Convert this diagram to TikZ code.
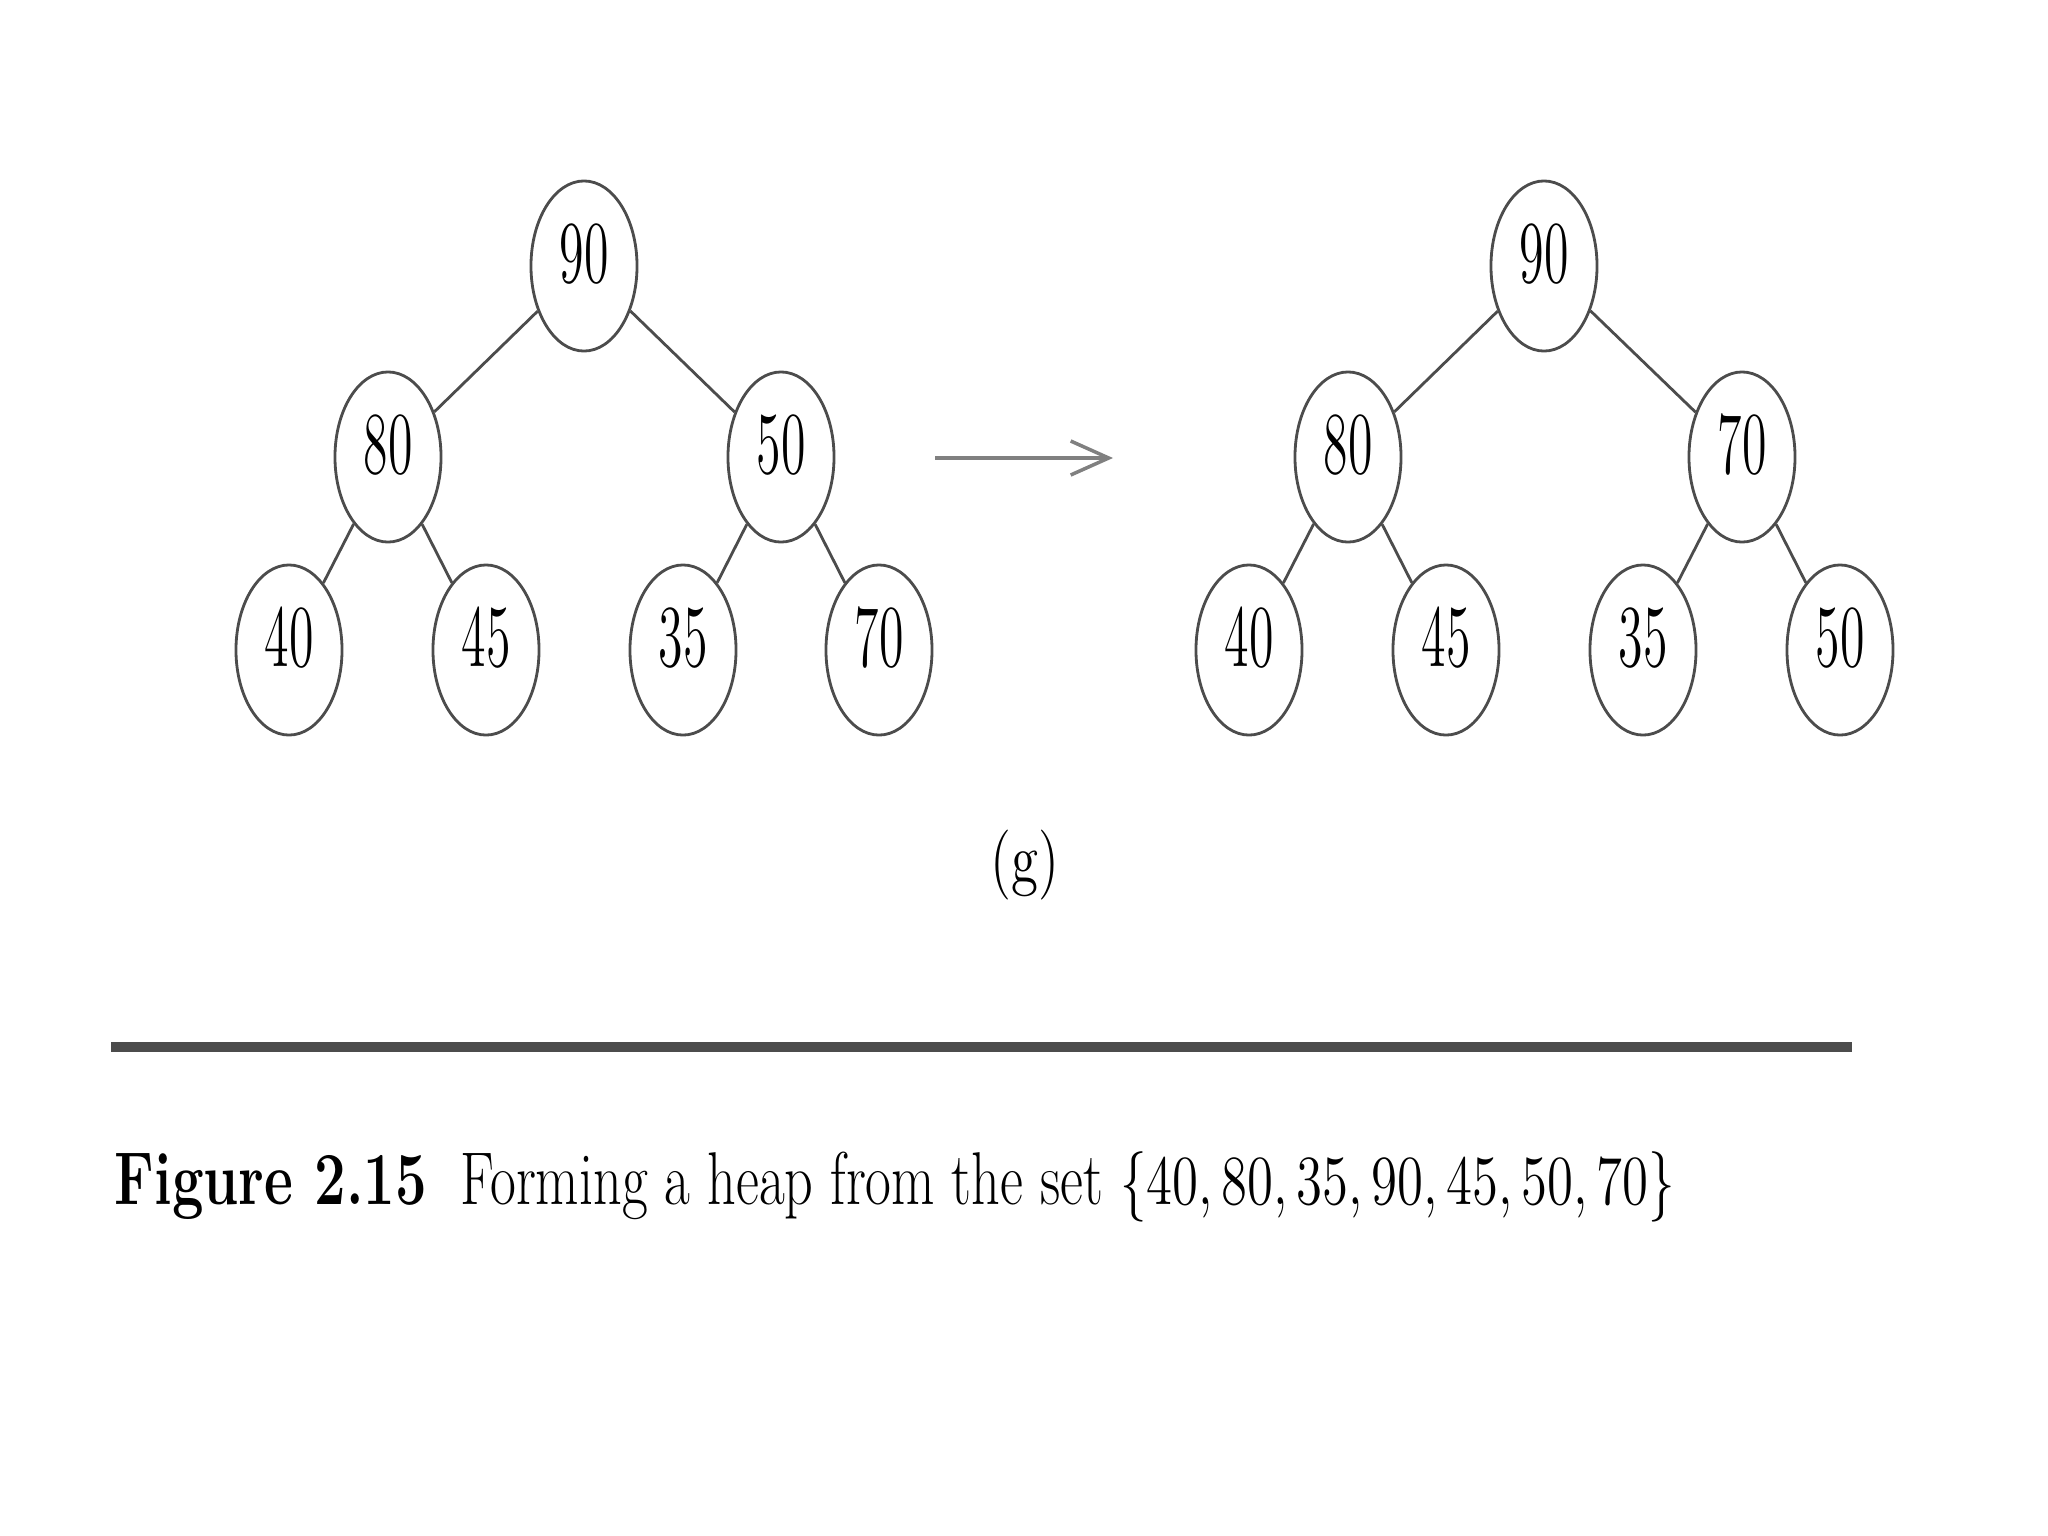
\documentclass[tikz,border=0pt]{standalone}
\usetikzlibrary{shapes.geometric,arrows.meta}
\newcommand{\tallt}[1]{\raisebox{-0.165cm}[0pt][0pt]{\scalebox{1}[1.77]{#1}}}
\begin{document}
\begin{tikzpicture}[x=0.01cm,y=-0.01cm,
  hnode/.style={draw=black!70,line width=0.8pt,ellipse,minimum width=1.06cm,minimum height=1.70cm,inner sep=0pt,font=\fontsize{14.2}{16}\selectfont},
  hedge/.style={draw=black!70,line width=0.8pt}]
\useasboundingbox (0,0) rectangle (2048,1536);
% left tree
\node[hnode] (a90) at (584,266) {\tallt{90}};
\node[hnode] (a80) at (388,457) {\tallt{80}};
\node[hnode] (a50) at (781,457) {\tallt{50}};
\node[hnode] (a40) at (289,650) {\tallt{40}};
\node[hnode] (a45) at (486,650) {\tallt{45}};
\node[hnode] (a35) at (683,650) {\tallt{35}};
\node[hnode] (a70) at (879,650) {\tallt{70}};
\draw[hedge] (a90) -- (a80);
\draw[hedge] (a90) -- (a50);
\draw[hedge] (a80) -- (a40);
\draw[hedge] (a80) -- (a45);
\draw[hedge] (a50) -- (a35);
\draw[hedge] (a50) -- (a70);
% right tree
\node[hnode] (b90) at (1544,266) {\tallt{90}};
\node[hnode] (b80) at (1348,457) {\tallt{80}};
\node[hnode] (b70) at (1742,457) {\tallt{70}};
\node[hnode] (b40) at (1249,650) {\tallt{40}};
\node[hnode] (b45) at (1446,650) {\tallt{45}};
\node[hnode] (b35) at (1643,650) {\tallt{35}};
\node[hnode] (b50) at (1840,650) {\tallt{50}};
\draw[hedge] (b90) -- (b80);
\draw[hedge] (b90) -- (b70);
\draw[hedge] (b80) -- (b40);
\draw[hedge] (b80) -- (b45);
\draw[hedge] (b70) -- (b35);
\draw[hedge] (b70) -- (b50);
% arrow
\coordinate (arS) at (935,458);
\coordinate (arE) at (1113,458);
\draw[draw=black!50,line width=1pt,-{Straight Barb[length=0.38cm,width=0.34cm,line width=1pt]}] (arS) -- (arE);
% label
\node[font=\fontsize{14.2}{16}\selectfont] (glab) at (1025,865) {\scalebox{1.1}[1.4]{(g)}};
% rule
\coordinate (rS) at (111,1047);
\coordinate (rE) at (1852,1047);
\draw[draw=black!70,line width=2.6pt] (rS) -- (rE);
% caption
\node[anchor=base west,inner sep=0pt,font=\fontsize{15.3}{17}\selectfont] (cap) at (114,1204) {\scalebox{1.044}[1.39]{\textbf{Figure 2.15}\ \ Forming a heap from the set $\{40,80,35,90,45,50,70\}$}};
\end{tikzpicture}
\end{document}
